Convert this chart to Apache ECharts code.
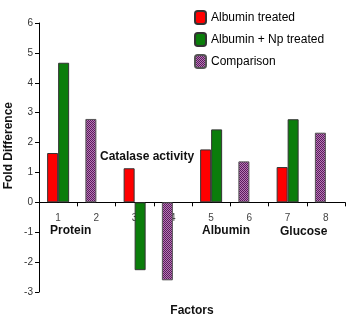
<!DOCTYPE html>
<html>
<head>
<meta charset="utf-8">
<script src="https://cdn.jsdelivr.net/npm/echarts@6/dist/echarts.min.js"></script>
<style>html,body{margin:0;padding:0;background:#fff;}#c{width:351px;height:322px;}</style>
</head>
<body>
<div id="c"></div>
<script>
const categories = ['1','2','3','4','5','6','7','8'];
const albuminTreated = [1.65, '-', 1.14, '-', 1.77, '-', 1.18, '-'];
const albuminNpTreated = [4.67, '-', -2.27, '-', 2.44, '-', 2.78, '-'];
const comparison = ['-', 2.79, '-', -2.61, '-', 1.37, '-', 2.33];
const seriesNames = ['Albumin treated', 'Albumin + Np treated', 'Comparison'];
const yTicks = {min: -3, max: 6, interval: 1};
const annotations = [
  {text: 'Protein', x: 50, y: 231},
  {text: 'Catalase activity', x: 100, y: 157},
  {text: 'Albumin', x: 202, y: 231},
  {text: 'Glucose', x: 280, y: 232}
];

function makePattern() {
  const c = document.createElement('canvas');
  c.width = 2; c.height = 2;
  const g = c.getContext('2d');
  g.fillStyle = '#b57ab5'; g.fillRect(0,0,2,2);
  g.fillStyle = '#5c1a5c'; g.fillRect(0,0,1,1); g.fillRect(1,1,1,1);
  return c;
}
const pattern = {image: makePattern(), repeat: 'repeat'};

const chart = echarts.init(document.getElementById('c'), null, {renderer: 'canvas'});
const font = 'Liberation Sans, Arial, sans-serif';
chart.setOption({
  animation: false,
  backgroundColor: '#fff',
  textStyle: {fontFamily: font},
  legend: {
    orient: 'vertical', left: 189, top: 5,
    itemWidth: 11, itemHeight: 13, itemGap: 7,
    data: seriesNames,
    textStyle: {fontSize: 12, color: '#000', fontFamily: font}
  },
  grid: {left: 39, right: 6, top: 23, bottom: 30},
  xAxis: [{
    type: 'category', data: categories,
    axisLine: {onZero: true, lineStyle: {color: '#000', width: 1}},
    axisTick: {show: true, interval: 0, length: 4, lineStyle: {color: '#000'}},
    axisLabel: {show: false},
    splitLine: {show: false}
  }, {
    type: 'category', data: categories, position: 'bottom', offset: -90,
    axisLine: {show: false, onZero: false},
    axisTick: {show: false},
    axisLabel: {color: '#444', fontSize: 10, margin: 11, fontFamily: font},
    splitLine: {show: false}
  }],
  yAxis: {
    type: 'value', min: yTicks.min, max: yTicks.max, interval: yTicks.interval,
    axisLine: {show: true, onZero: false, lineStyle: {color: '#000', width: 1}},
    axisTick: {show: true, length: 4, lineStyle: {color: '#000'}},
    axisLabel: {color: '#333', fontSize: 10, margin: 6, fontFamily: font},
    splitLine: {show: false}
  },
  graphic: [
    {type: 'text', left: 3, top: 102, rotation: Math.PI/2, style: {text: 'Fold Difference', font: 'bold 12px ' + font, fill: '#111'}},
    {type: 'text', x: 192, y: 311, style: {text: 'Factors', font: 'bold 12px ' + font, fill: '#111', align: 'center', verticalAlign: 'middle'}}
  ].concat(annotations.map(a => ({
    type: 'text', x: a.x, y: a.y,
    style: {text: a.text, font: 'bold 12px ' + font, fill: '#111', verticalAlign: 'middle'}
  }))),
  series: [
    {name: seriesNames[0], type: 'bar', stack: 'a', data: albuminTreated, barWidth: 11, barGap: '0%',
     itemStyle: {color: '#ff0000', borderColor: '#333', borderWidth: 1}},
    {name: seriesNames[1], type: 'bar', stack: 'b', data: albuminNpTreated, barWidth: 11, barGap: '0%',
     itemStyle: {color: '#0b7d0b', borderColor: '#333', borderWidth: 1}},
    {name: seriesNames[2], type: 'bar', stack: 'a', data: comparison, barWidth: 11, barGap: '0%',
     itemStyle: {color: pattern, borderColor: '#555', borderWidth: 1}}
  ]
});
</script>
</body>
</html>
